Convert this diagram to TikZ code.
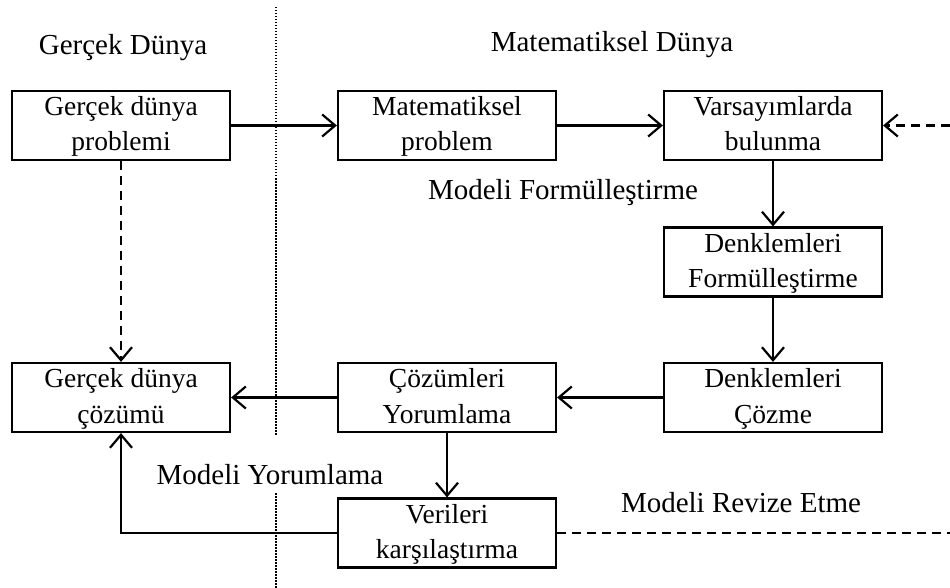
\documentclass[tikz,border=0pt]{standalone}
\usepackage{fontspec}
\setmainfont{Liberation Serif}
\usetikzlibrary{arrows.meta}
\begin{document}
\begin{tikzpicture}[x=1pt,y=-1pt,
  box/.style={draw, line width=2.2pt, minimum width=218pt, minimum height=69pt,
    inner sep=0pt, align=center, text height=57pt, text depth=6pt,
    font=\fontsize{27.5}{35.5}\selectfont},
  lbl/.style={font=\fontsize{29}{32}\selectfont, inner sep=0pt},
  flow/.style={line width=2.2pt, -{Straight Barb[length=13pt,width=22pt,line width=2.2pt]}},
  dashflow/.style={flow, dash pattern=on 9pt off 6pt},
  dashline/.style={line width=2.2pt, dash pattern=on 9pt off 6pt},
  divider/.style={line width=1.1pt, dash pattern=on 1.5pt off 1.5pt}]
\useasboundingbox (0,0) rectangle (950,588);

% divider between the two worlds
\coordinate (dtop) at (276,7);
\coordinate (dmid1) at (276,435);
\coordinate (dmid2) at (276,493);
\coordinate (dbot) at (276,588);
\draw[divider] (dtop) -- (dmid1);
\draw[divider] (dmid2) -- (dbot);

% headings and phase labels
\node[lbl] (realw) at (123,48) {Gerçek Dünya};
\node[lbl] (mathw) at (612,45) {Matematiksel Dünya};
\node[lbl] (formul) at (563,193) {Modeli Formülleştirme};
\node[lbl] (yorum) at (270,475) {Modeli Yorumlama};
\node[lbl] (revize) at (741,503) {Modeli Revize Etme};

% steps (fixed size so the connectors meet the frames)
\node[box] (rprob) at (121,125.5) {Gerçek dünya\\problemi};
\node[box] (mprob) at (447,125.5) {Matematiksel\\problem};
\node[box] (vars)  at (773,125.5) {Varsayımlarda\\bulunma};
\node[box] (dform) at (773,262) {Denklemleri\\Formülleştirme};
\node[box] (dcoz)  at (773,397.5) {Denklemleri\\Çözme};
\node[box] (cyor)  at (447,397.5) {Çözümleri\\Yorumlama};
\node[box] (rsol)  at (121,397.5) {Gerçek dünya\\çözümü};
\node[box] (verk)  at (447,533) {Verileri\\karşılaştırma};

% connectors
\draw[flow] (rprob) -- (mprob);
\draw[flow] (mprob) -- (vars);
\draw[flow] (vars) -- (dform);
\draw[flow] (dform) -- (dcoz);
\draw[flow] (dcoz) -- (cyor);
\draw[flow] (cyor) -- (rsol);
\draw[flow] (cyor) -- (verk);
\draw[flow] (verk.west) -| (rsol.south);
\draw[dashflow] (rprob) -- (rsol);

\coordinate (loopin) at (950,125.5);
\coordinate (loopout) at (950,533);
\draw[dashflow] (loopin) -- (vars.east);
\draw[dashline] (verk.east) -- (loopout);
\end{tikzpicture}
\end{document}
